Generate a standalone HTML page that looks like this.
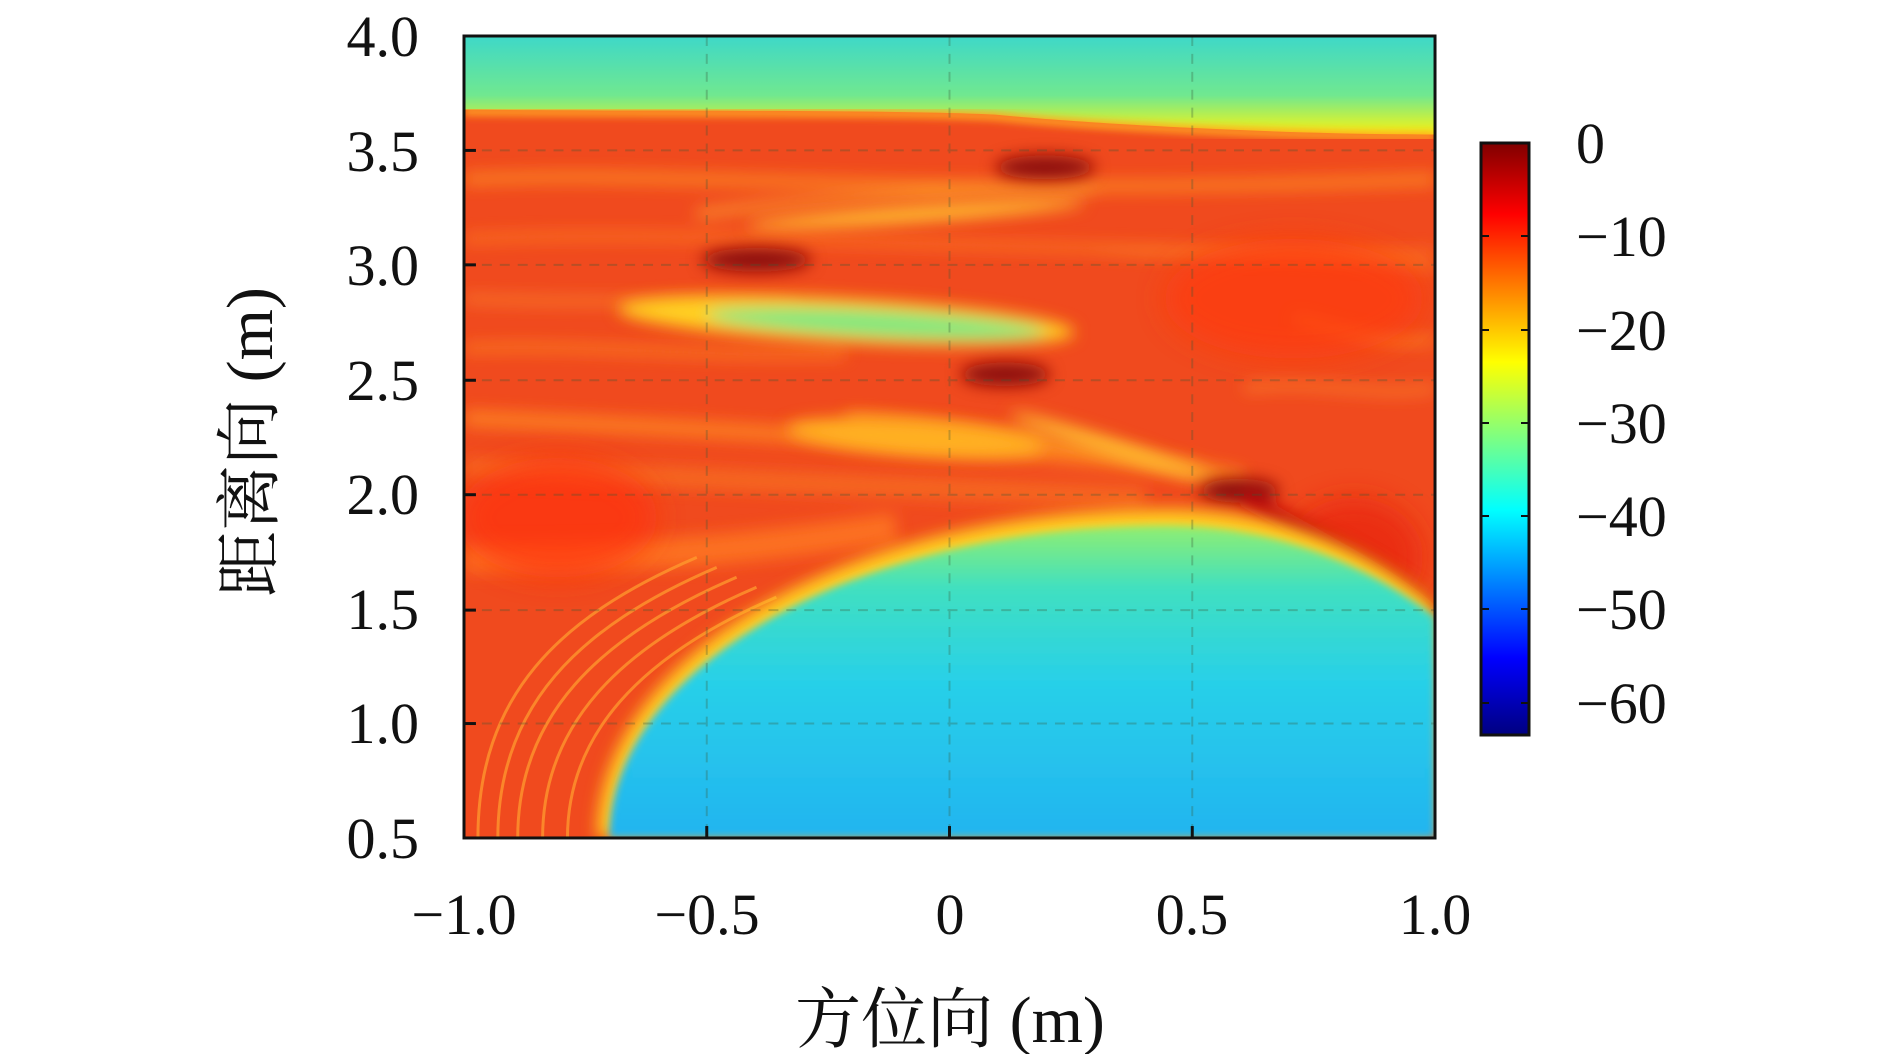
<!DOCTYPE html>
<html><head><meta charset="utf-8"><style>
body{margin:0;background:#fff;width:1890px;height:1054px;overflow:hidden;}
svg{position:absolute;left:0;top:0}
</style></head><body>
<svg width="1890" height="1054" viewBox="0 0 1890 1054" font-family="'Liberation Serif','Noto Serif CJK SC',serif">
<defs>
<clipPath id="c"><rect x="466" y="36" width="976" height="806"/></clipPath>
<filter id="b8"><feGaussianBlur stdDeviation="8"/></filter>
<filter id="b4"><feGaussianBlur stdDeviation="4"/></filter>
<filter id="b14"><feGaussianBlur stdDeviation="14"/></filter>
<linearGradient id="top" x1="0" y1="0" x2="0" y2="1">
<stop offset="0" stop-color="#3ed8c8"/><stop offset="0.6" stop-color="#70e890"/><stop offset="0.85" stop-color="#c8f040"/><stop offset="1" stop-color="#f8f010"/></linearGradient>
<linearGradient id="bot" x1="0" y1="0" x2="0" y2="1">
<stop offset="0" stop-color="#90ee70"/><stop offset="0.2" stop-color="#40e0c0"/><stop offset="0.5" stop-color="#28d0e8"/><stop offset="1" stop-color="#22b4f0"/></linearGradient>
<linearGradient id="cb" x1="0" y1="0" x2="0" y2="1">
<stop offset="0" stop-color="#800000"/><stop offset="0.12" stop-color="#ff0000"/><stop offset="0.37" stop-color="#ffff00"/><stop offset="0.62" stop-color="#00ffff"/><stop offset="0.87" stop-color="#0000ff"/><stop offset="1" stop-color="#000080"/></linearGradient>
</defs>
<g transform="translate(464,36) scale(0.9949,0.995) translate(-466,-36)">
<g clip-path="url(#c)">
<rect x="466" y="36" width="976" height="806" fill="#f04a1e"/>
<g filter="url(#b8)" opacity="0.8">
<path d="M466,180 C700,170 900,200 1442,180" stroke="#ff9a20" stroke-width="10" fill="none"/>
<path d="M466,240 C700,230 900,250 1442,255" stroke="#ff8020" stroke-width="8" fill="none"/>
<path d="M466,420 C700,430 900,440 1200,470" stroke="#ff8a20" stroke-width="16" fill="none"/>
<path d="M466,470 C700,480 900,490 1150,500" stroke="#f87020" stroke-width="20" fill="none"/>
<path d="M466,560 C600,560 700,560 900,530" stroke="#ff7a20" stroke-width="30" fill="none"/>
<path d="M700,215 C800,200 1000,190 1100,190" stroke="#ffb030" stroke-width="8" fill="none"/>
<path d="M850,420 C950,425 1100,450 1250,480" stroke="#ffa020" stroke-width="12" fill="none"/>
<path d="M1300,320 C1350,330 1400,350 1442,340" stroke="#ff9020" stroke-width="8" fill="none"/>
<path d="M466,300 C600,305 700,300 800,310" stroke="#ff9a30" stroke-width="6" fill="none"/>
<path d="M466,350 C600,345 700,360 850,355" stroke="#ff8a20" stroke-width="8" fill="none"/>
<path d="M1100,250 C1200,260 1300,250 1442,270" stroke="#ff8a20" stroke-width="6" fill="none"/>
<path d="M1250,390 C1320,380 1380,400 1442,390" stroke="#ff9a30" stroke-width="6" fill="none"/>
</g>
<g filter="url(#b14)" opacity="0.7">
<ellipse cx="1300" cy="300" rx="130" ry="60" fill="#ff3a10"/>
<ellipse cx="560" cy="520" rx="100" ry="60" fill="#ff3010"/>
<ellipse cx="1360" cy="560" rx="70" ry="60" fill="#e82010"/>
</g>
<path d="M466,36 H1442 V135 C1300,135 1100,125 1000,115 C900,110 700,112 466,110 Z" fill="url(#top)"/>
<path d="M466,112 C700,114 900,112 1000,117 C1100,127 1300,137 1442,137" stroke="#ffa020" stroke-width="8" fill="none" filter="url(#b4)"/>
<g filter="url(#b8)">
<ellipse cx="850" cy="322" rx="230" ry="22" fill="#ffd020" transform="rotate(3 850 322)"/>
<ellipse cx="880" cy="325" rx="170" ry="13" fill="#80e880" transform="rotate(3 880 325)"/>
<ellipse cx="920" cy="440" rx="130" ry="18" fill="#ffb020" transform="rotate(4 920 440)"/>
<ellipse cx="1120" cy="450" rx="110" ry="8" fill="#ffc030" transform="rotate(18 1120 450)"/>
<ellipse cx="920" cy="215" rx="170" ry="8" fill="#ffc030" transform="rotate(-4 920 215)"/>
</g>
<g filter="url(#b8)">
<ellipse cx="1050" cy="168" rx="50" ry="12" fill="#8a0a0a"/>
<ellipse cx="760" cy="261" rx="55" ry="12" fill="#8a0a0a"/>
<ellipse cx="1010" cy="376" rx="45" ry="12" fill="#8a0a0a"/>
<ellipse cx="1245" cy="493" rx="40" ry="12" fill="#8a0a0a"/>
<path d="M1250,500 C1320,540 1400,580 1442,620" stroke="#c01010" stroke-width="18" fill="none"/>
</g>
<g fill="none" stroke="#ffa030" stroke-width="3" opacity="0.7">
<path d="M480,842 C480,700 560,620 700,560"/>
<path d="M500,842 C500,710 580,630 720,570"/>
<path d="M520,842 C520,720 600,640 740,580"/>
<path d="M545,842 C545,730 620,650 760,590"/>
<path d="M570,842 C570,740 640,660 780,600"/>
</g>
<path d="M600,842 C600,660 850,512 1170,512 C1310,512 1400,570 1442,608 V842 Z" fill="#ffd020" filter="url(#b8)"/>
<path d="M612,842 C612,672 860,528 1170,528 C1300,528 1390,580 1442,620 V842 Z" fill="url(#bot)" filter="url(#b4)"/>
<g stroke="#3a5a3a" stroke-width="2" stroke-dasharray="10,8" opacity="0.3">
<line x1="710" y1="36" x2="710" y2="842"/><line x1="954" y1="36" x2="954" y2="842"/><line x1="1198" y1="36" x2="1198" y2="842"/>
<line x1="466" y1="727" x2="1442" y2="727"/><line x1="466" y1="613" x2="1442" y2="613"/><line x1="466" y1="497" x2="1442" y2="497"/>
<line x1="466" y1="382" x2="1442" y2="382"/><line x1="466" y1="266" x2="1442" y2="266"/><line x1="466" y1="151" x2="1442" y2="151"/>
</g>
</g>
<rect x="466" y="36" width="976" height="806" fill="none" stroke="#111" stroke-width="3"/>
<g stroke="#111" stroke-width="3">
<line x1="710" y1="842" x2="710" y2="830"/><line x1="954" y1="842" x2="954" y2="830"/><line x1="1198" y1="842" x2="1198" y2="830"/>
<line x1="466" y1="727" x2="478" y2="727"/><line x1="466" y1="613" x2="478" y2="613"/><line x1="466" y1="497" x2="478" y2="497"/><line x1="466" y1="382" x2="478" y2="382"/><line x1="466" y1="266" x2="478" y2="266"/><line x1="466" y1="151" x2="478" y2="151"/>
</g>
</g>
<g font-size="58" fill="#111" text-anchor="end">
<text x="419" y="56">4.0</text><text x="419" y="171">3.5</text><text x="419" y="285">3.0</text><text x="419" y="400">2.5</text><text x="419" y="514">2.0</text><text x="419" y="629">1.5</text><text x="419" y="743">1.0</text><text x="419" y="858">0.5</text>
</g>
<g font-size="58" fill="#111" text-anchor="middle">
<text x="464" y="934">−1.0</text><text x="707" y="934">−0.5</text><text x="950" y="934">0</text><text x="1192" y="934">0.5</text><text x="1435" y="934">1.0</text>
</g>
<text x="950" y="1042" font-size="66" text-anchor="middle" fill="#111">方位向 (m)</text>
<text transform="translate(272,442) rotate(-90)" font-size="66" text-anchor="middle" fill="#111">距离向 (m)</text>
<rect x="1481" y="143" width="48" height="592" fill="url(#cb)" stroke="#111" stroke-width="3"/>
<g stroke="#111" stroke-width="2">
<line x1="1481" y1="236" x2="1489" y2="236"/><line x1="1521" y1="236" x2="1529" y2="236"/>
<line x1="1481" y1="330" x2="1489" y2="330"/><line x1="1521" y1="330" x2="1529" y2="330"/>
<line x1="1481" y1="423" x2="1489" y2="423"/><line x1="1521" y1="423" x2="1529" y2="423"/>
<line x1="1481" y1="516" x2="1489" y2="516"/><line x1="1521" y1="516" x2="1529" y2="516"/>
<line x1="1481" y1="609" x2="1489" y2="609"/><line x1="1521" y1="609" x2="1529" y2="609"/>
<line x1="1481" y1="703" x2="1489" y2="703"/><line x1="1521" y1="703" x2="1529" y2="703"/>
</g>
<g font-size="58" fill="#111">
<text x="1576" y="163">0</text><text x="1576" y="256">−10</text><text x="1576" y="350">−20</text><text x="1576" y="443">−30</text><text x="1576" y="536">−40</text><text x="1576" y="629">−50</text><text x="1576" y="723">−60</text>
</g>
</svg>
</body></html>
